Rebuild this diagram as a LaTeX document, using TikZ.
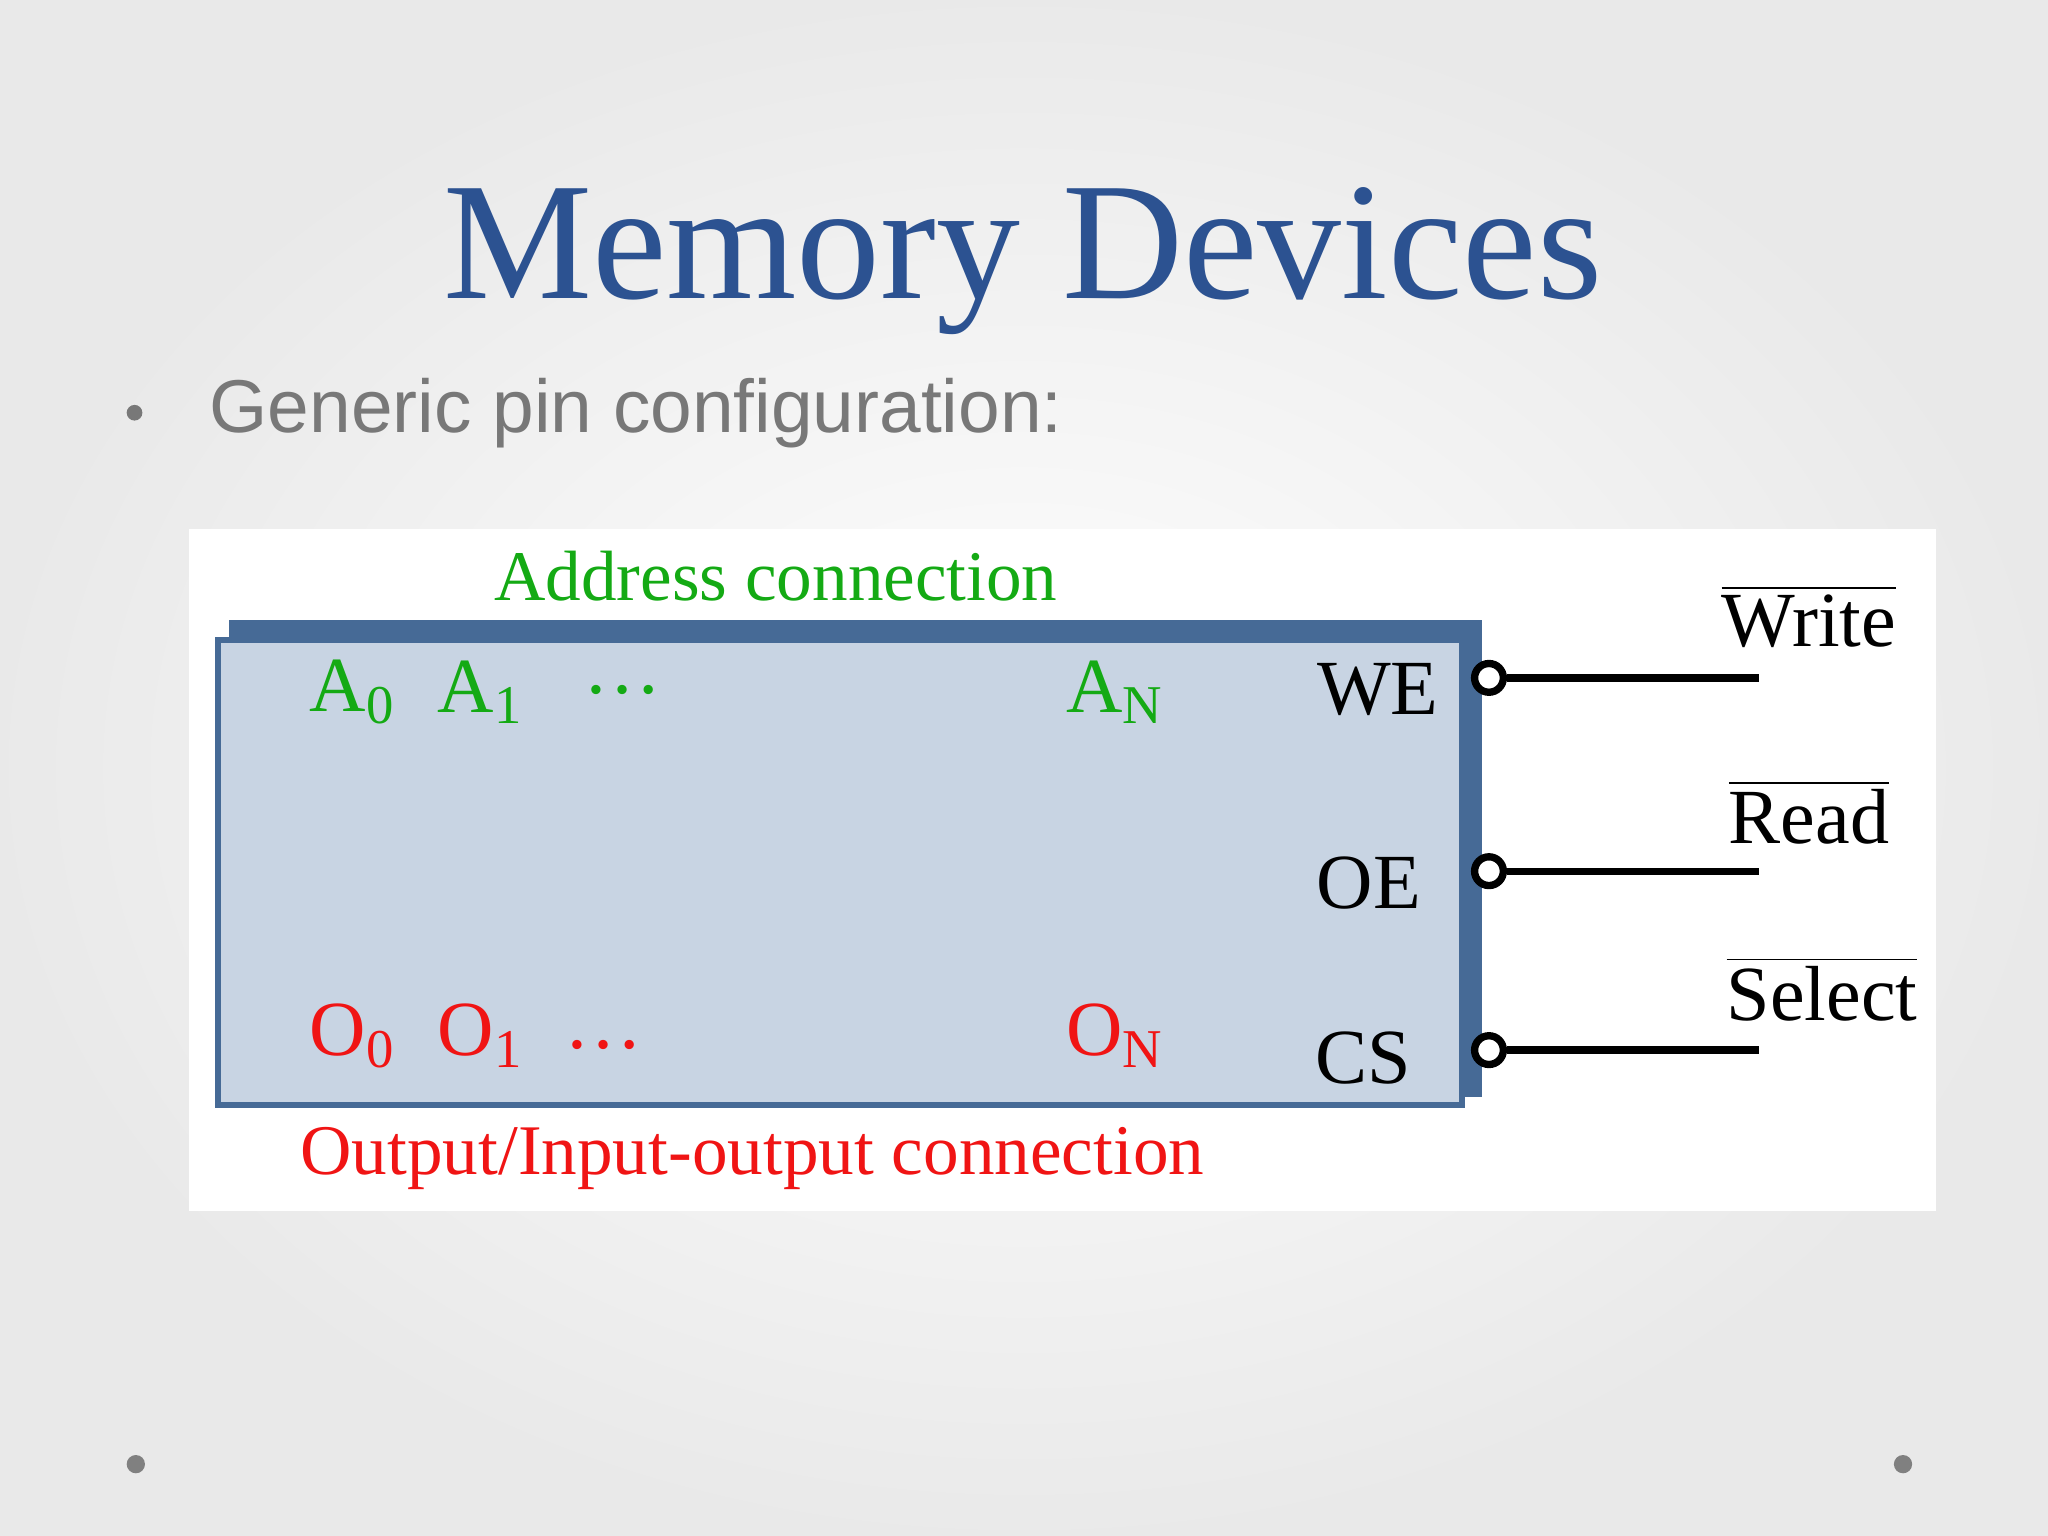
\documentclass[tikz,border=0pt]{standalone}
\usepackage{fontspec}
\setmainfont{Liberation Serif}
\newfontfamily\gsans{Liberation Sans}
\definecolor{ttl}{RGB}{44,82,145}
\definecolor{frame}{RGB}{70,106,150}
\definecolor{boxfill}{RGB}{200,212,227}
\definecolor{grn}{RGB}{20,170,20}
\definecolor{rd}{RGB}{240,20,20}
\definecolor{gtx}{RGB}{120,120,120}
\begin{document}
\begin{tikzpicture}[x=0.01cm,y=-0.01cm,
  pin/.style={font=\fontsize{17}{20}\selectfont},
  g/.style={pin,text=grn}, r/.style={pin,text=rd}, k/.style={pin,text=black},
  lbl/.style={font=\fontsize{15.5}{18}\selectfont},
  wire/.style={line width=1.6pt},
  bub/.style={circle,draw,line width=1.6pt,fill=white,minimum size=0.22cm,inner sep=0pt}]
\useasboundingbox (0,0) rectangle (1568,1176);
\shade[inner color=white,outer color=gray!17] (0,0) rectangle (1568,1176);
\node[font=\fontsize{36.5}{42}\selectfont,text=ttl] (title) at (783,200) {Memory Devices};
\fill[gtx] (103,316) circle (6);
\node[font=\gsans\fontsize{16.3}{20}\selectfont,text=gtx,anchor=west] (sub) at (148,316) {Generic pin configuration:};
\fill[white] (145,405) rectangle (1482,927);
\fill[frame] (175,475) rectangle (1135,840);
\filldraw[fill=boxfill,draw=frame,line width=1.3pt] (167,490) rectangle (1119,846);
\node[lbl,text=grn] (addr) at (594,441) {Address connection};
\node[g] (a0) at (270,530) {A\textsubscript{0}};
\node[g] (a1) at (368,530) {A\textsubscript{1}};
\node[g] (ad) at (477,528) {\dots};
\node[g] (an) at (854,530) {A\textsubscript{N}};
\node[r] (o0) at (270,793) {O\textsubscript{0}};
\node[r] (o1) at (368,793) {O\textsubscript{1}};
\node[r] (od) at (462,800) {\dots};
\node[r] (on) at (854,793) {O\textsubscript{N}};
\node[lbl,text=rd] (out) at (576,887) {Output/Input-output connection};
\node[k] (we) at (1055,528) {WE};
\node[k] (oe) at (1048,676) {OE};
\node[k] (cs) at (1044,810) {CS};
\node[bub] (b1) at (1140,519) {};
\node[bub] (b2) at (1140,667) {};
\node[bub] (b3) at (1140,804) {};
\coordinate (e1) at (1347,519); \coordinate (e2) at (1347,667); \coordinate (e3) at (1347,804);
\draw[wire] (b1.east) -- (e1);
\draw[wire] (b2.east) -- (e2);
\draw[wire] (b3.east) -- (e3);
\node[k] (w) at (1385,472) {$\overline{\mbox{Write}}$};
\node[k] (rdl) at (1385,622) {$\overline{\mbox{Read}}$};
\node[k] (sel) at (1395,757) {$\overline{\mbox{Select}}$};
\fill[gray] (104,1121) circle (7);
\fill[gray] (1457,1121) circle (7);
\end{tikzpicture}
\end{document}
